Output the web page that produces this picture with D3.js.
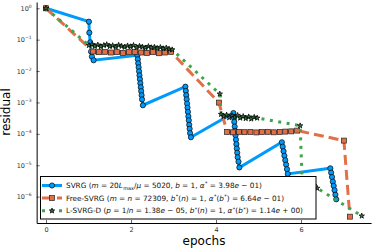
<!DOCTYPE html>
<html>
<head>
<meta charset="utf-8">
<script src="https://cdn.jsdelivr.net/npm/d3@7"></script>
<style>
  body { margin: 0; background: #fff; }
  text { font-family: "DejaVu Sans", sans-serif; }
</style>
</head>
<body>
<div id="chart"></div>
<script>

// SVRG: outer loops (full gradient = 1 epoch) then inner loop points
var svrgEpochs = [0, 1.01, 1.02, 1.04, 1.06, 1.08, 1.12,
    2.15, 2.16, 2.17, 2.18, 2.19, 2.20, 2.21, 2.22, 2.23, 2.24, 2.25, 2.26, 2.28,
    3.28, 3.29, 3.30, 3.31, 3.32, 3.33, 3.34, 3.35, 3.36, 3.37, 3.38, 3.39, 3.41,
    4.41, 4.42, 4.43, 4.44, 4.45, 4.46, 4.47, 4.48, 4.49, 4.50, 4.51, 4.53, 4.55,
    5.55, 5.57, 5.59, 5.61, 5.63, 5.65, 5.67, 5.69,
    6.69, 6.71, 6.73, 6.75, 6.77, 6.79, 6.81, 6.83];
var svrgResidual = [1, 0.374, 0.167, 0.0826, 0.0415, 0.0288, 0.0221,
    3.18e-2, 2.37e-2, 1.77e-2, 1.32e-2, 9.8e-3, 7.3e-3, 5.5e-3, 4.1e-3, 3.05e-3, 2.3e-3, 1.7e-3, 1.25e-3, 8.15e-4,
    3.18e-3, 2.33e-3, 1.71e-3, 1.26e-3, 9.2e-4, 6.8e-4, 5.0e-4, 3.6e-4, 2.7e-4, 1.95e-4, 1.45e-4, 1.05e-4, 7.8e-5,
    4.6e-4, 3.3e-4, 2.4e-4, 1.7e-4, 1.25e-4, 9e-5, 6.5e-5, 4.7e-5, 3.4e-5, 2.5e-5, 1.8e-5, 1.3e-5, 8.5e-6,
    5.4e-5, 3.9e-5, 2.8e-5, 2.0e-5, 1.45e-5, 1.05e-5, 7.5e-6, 5.3e-6,
    8.0e-6, 5.8e-6, 4.2e-6, 3.0e-6, 2.2e-6, 1.6e-6, 1.15e-6, 8.2e-7];

var freeEpochs = [0, 1.11, 1.25, 1.39, 1.53, 1.67, 1.81, 1.95, 2.09, 2.24, 2.38, 2.52, 2.66, 2.80, 2.94,
    4.07, 4.26, 4.40, 4.54, 4.67, 4.81, 4.95, 5.08, 5.22, 5.36, 5.50, 5.63, 5.77, 5.91, 7.01, 7.15];
var freeResidual = [1, 0.042, 0.040, 0.041, 0.039, 0.040, 0.038, 0.040, 0.041, 0.039, 0.038, 0.040, 0.037, 0.039, 0.041,
    9.9e-4, 1.15e-4, 1.12e-4, 1.16e-4, 1.13e-4, 1.15e-4, 1.11e-4, 1.14e-4, 1.16e-4, 1.12e-4, 1.15e-4, 1.18e-4, 1.2e-4, 1.27e-4,
    6.1e-5, 2.3e-7];

var lsvrgEpochs = [0,
    1.01, 1.08, 1.15, 1.22, 1.29, 1.36, 1.43, 1.50, 1.57, 1.64, 1.71, 1.78, 1.85, 1.92, 1.99,
    2.06, 2.13, 2.20, 2.27, 2.34, 2.41, 2.48, 2.55, 2.62, 2.69, 2.76, 2.83, 2.90, 2.97,
    4.09,
    4.12, 4.18, 4.25, 4.31, 4.38, 4.44, 4.51, 4.57, 4.64, 4.70, 4.77, 4.83, 4.90, 4.97,
    5.98,
    6.03, 6.10, 6.17, 6.24, 6.31, 6.38,
    7.43];
var lsvrgResidual = [1,
    0.066, 0.071, 0.062, 0.068, 0.060, 0.066, 0.070, 0.061, 0.065, 0.059, 0.067, 0.062, 0.058, 0.064, 0.060,
    0.066, 0.057, 0.062, 0.059, 0.055, 0.061, 0.056, 0.058, 0.053, 0.057, 0.052, 0.055, 0.050, 0.048,
    1.87e-3,
    4.2e-4, 3.6e-4, 4.0e-4, 3.3e-4, 3.8e-4, 3.4e-4, 3.9e-4, 3.2e-4, 3.6e-4, 3.1e-4, 3.5e-4, 3.0e-4, 3.4e-4, 3.2e-4,
    1.82e-4,
    2.8e-6, 2.2e-6, 2.5e-6, 2.0e-6, 2.3e-6, 1.86e-6,
    2.43e-7];

var xTicks = [0, 2, 4, 6];
var yTickExps = [0, -1, -2, -3, -4, -5, -6];

// legend labels as [text, style] pieces: i = italic, sub, sup
var legendLabels = [
    [["SVRG ("], ["m", "i"], [" = 20"], ["L", "i"], ["max", "sub"], ["/"], ["μ", "i"], [" = 5020, "],
     ["b", "i"], [" = 1, "], ["α", "i"], ["*", "sup"], [" = 3.98"], ["e", "i"], [" − 01)"]],
    [["Free-SVRG ("], ["m", "i"], [" = "], ["n", "i"], [" = 72309, "], ["b", "i"], ["*", "sup"], ["("], ["n", "i"],
     [") = 1, "], ["α", "i"], ["*", "sup"], ["("], ["b", "i"], ["*", "sup"], [") = 6.64"], ["e", "i"], [" − 01)"]],
    [["L-SVRG-D ("], ["p", "i"], [" = 1/"], ["n", "i"], [" = 1.38"], ["e", "i"], [" − 05, "], ["b", "i"], ["*", "sup"],
     ["("], ["n", "i"], [") = 1, "], ["α", "i"], ["*", "sup"], ["("], ["b", "i"], ["*", "sup"], [") = 1.14"], ["e", "i"], [" + 00)"]]
];

var width = 374, height = 249;
var svg, x, y;

var series = [
    { ep: svrgEpochs, res: svrgResidual, color: "#009AFA", dash: null, marker: "circle" },
    { ep: freeEpochs, res: freeResidual, color: "#E36F47", dash: "10,5", marker: "square" },
    { ep: lsvrgEpochs, res: lsvrgResidual, color: "#3EA44E", dash: "3,5.5", marker: "star" }
];

function init() {
    svg = d3.select("#chart").append("svg")
        .attr("width", width)
        .attr("height", height);

    x = d3.scaleLinear().domain([-0.22, 7.65]).range([36.65, 371.1]);
    y = d3.scaleLog().domain([Math.pow(10, 0.2), Math.pow(10, -6.84)]).range([2, 223]);

    drawAxes();
    series.forEach(drawSeries);
    drawLegend();
}

function drawAxes() {
    var yAxis = svg.append("g")
        .attr("transform", "translate(" + x.range()[0] + ",0)")
        .call(d3.axisLeft(y)
            .tickValues(yTickExps.map(e => Math.pow(10, e)))
            .tickSizeInner(-3).tickSizeOuter(0).tickPadding(5)
            .tickFormat(""));
    yAxis.selectAll(".tick text")
        .attr("font-size", 6.5)
        .attr("fill", "#333")
        .each(function (d, i) {
            var t = d3.select(this);
            t.append("tspan").text("10");
            t.append("tspan").attr("dy", -3).attr("font-size", 4.5)
                .text(yTickExps[i] == 0 ? "0" : "−" + (-yTickExps[i]));
        });

    var xAxis = svg.append("g")
        .attr("transform", "translate(0," + y.range()[1] + ")")
        .call(d3.axisBottom(x)
            .tickValues(xTicks)
            .tickSizeInner(-3).tickSizeOuter(0).tickPadding(4)
            .tickFormat(d3.format("d")));
    xAxis.selectAll(".tick text").attr("font-size", 6.5).attr("fill", "#333");

    svg.selectAll(".domain").attr("stroke", "#000");
    svg.selectAll(".tick line").attr("stroke", "#000").attr("stroke-width", 0.6);

    svg.append("text")
        .attr("transform", "translate(10,112) rotate(-90)")
        .attr("text-anchor", "middle")
        .attr("font-size", 12)
        .text("residual");

    svg.append("text")
        .attr("x", 204).attr("y", 245)
        .attr("text-anchor", "middle")
        .attr("font-size", 12)
        .text("epochs");
}

function addMarker(g, type, color, cx, cy) {
    if (type == "circle") {
        g.append("circle").attr("cx", cx).attr("cy", cy).attr("r", 2.6)
            .attr("fill", color).attr("stroke", "#000").attr("stroke-width", 0.7);
    } else if (type == "square") {
        g.append("rect").attr("x", cx - 2.5).attr("y", cy - 2.5).attr("width", 5).attr("height", 5)
            .attr("fill", color).attr("stroke", "#222").attr("stroke-width", 0.7);
    } else {
        g.append("path").attr("d", d3.symbol(d3.symbolStar, 9)())
            .attr("transform", "translate(" + cx + "," + cy + ")")
            .attr("fill", "#3a7a44").attr("stroke", "#000").attr("stroke-width", 0.75);
    }
}

function drawSeries(s) {
    var pts = s.ep.map((e, i) => [x(e), y(s.res[i])]);
    var g = svg.append("g");
    g.append("path")
        .attr("d", d3.line()(pts))
        .attr("fill", "none")
        .attr("stroke", s.color)
        .attr("stroke-width", 3)
        .attr("stroke-dasharray", s.dash);
    pts.forEach(p => addMarker(g, s.marker, s.color, p[0], p[1]));
}

function drawLegend() {
    var lg = svg.append("g");
    lg.append("rect")
        .attr("x", 40.5).attr("y", 176.5)
        .attr("width", 275.5).attr("height", 42.5)
        .attr("fill", "#fff").attr("stroke", "#000").attr("stroke-width", 1);

    var rowY = [185.5, 198, 210.8];
    series.forEach(function (s, i) {
        lg.append("line")
            .attr("x1", 42).attr("x2", 62).attr("y1", rowY[i]).attr("y2", rowY[i])
            .attr("stroke", s.color).attr("stroke-width", 3)
            .attr("stroke-dasharray", s.dash);
        addMarker(lg, s.marker, s.color, 52, rowY[i]);

        var t = lg.append("text")
            .attr("x", 66).attr("y", rowY[i] + 2.5)
            .attr("font-size", 7.3)
            .attr("fill", "#111");
        var shift = 0;
        legendLabels[i].forEach(function (piece) {
            var st = piece[1] || "";
            var want = st == "sub" ? 1.6 : (st == "sup" ? -2.7 : 0);
            var ts = t.append("tspan").text(piece[0]);
            if (want != shift) { ts.attr("dy", want - shift); shift = want; }
            if (st == "i") ts.attr("font-style", "italic");
            if (st == "sub" || st == "sup") ts.attr("font-size", 5).attr("dx", 0.4);
        });
    });
}

window.onload = init();

</script>
</body>
</html>
